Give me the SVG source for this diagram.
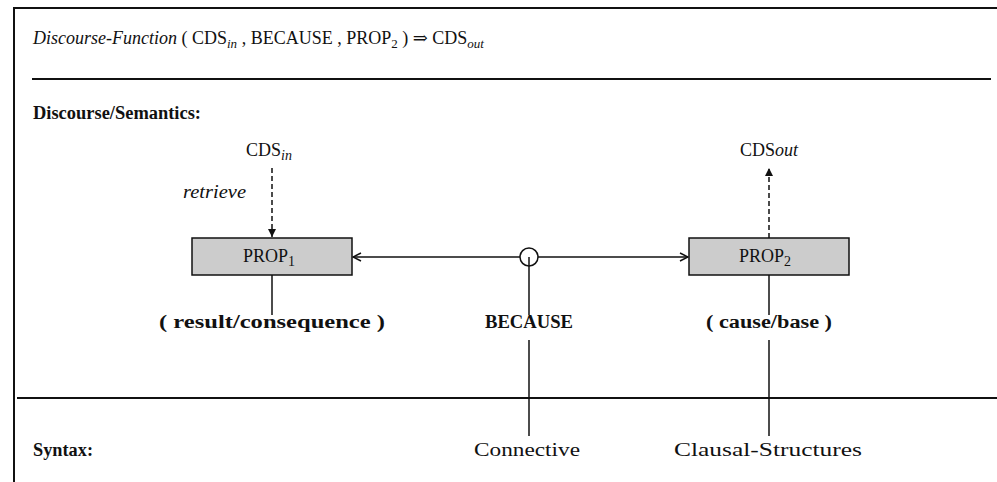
<svg xmlns="http://www.w3.org/2000/svg" width="997" height="482" viewBox="0 0 997 482">
<defs>
<style>
text{font-family:"Liberation Serif","DejaVu Serif",serif;fill:#111;font-size:18px}
.it{font-style:italic}
.sub{font-size:14px}
.b{font-weight:bold}
.c{text-anchor:middle}
.rule{stroke:#111;stroke-width:2;fill:none}
.ln{stroke:#111;stroke-width:1.5;fill:none}
.dash{stroke:#111;stroke-width:1.5;stroke-dasharray:5,3;fill:none}
.box{fill:#cccccc;stroke:#111;stroke-width:1.5}
</style>
<marker id="open" viewBox="0 0 10 10" refX="9" refY="5" markerWidth="10" markerHeight="10" markerUnits="userSpaceOnUse" orient="auto-start-reverse">
<path d="M1,1 L9,5 L1,9" fill="none" stroke="#111" stroke-width="1.5"/>
</marker>
<marker id="solid" viewBox="0 0 10 10" refX="10" refY="5" markerWidth="8" markerHeight="10" markerUnits="userSpaceOnUse" orient="auto">
<path d="M0,0 L10,5 L0,10 z" fill="#111"/>
</marker>
</defs>
<g id="frame">
<path class="rule" d="M997,8 H14 V482"/>
<line class="rule" x1="32" y1="79" x2="991" y2="79"/>
<line class="rule" x1="17" y1="398" x2="997" y2="398"/>
</g>
<g id="title">
<text x="33" y="44" font-size="16.5"><tspan class="it">Discourse-Function</tspan> ( CDS<tspan class="it" font-size="13" dy="4">in</tspan><tspan dy="-4"> , BECAUSE , PROP</tspan><tspan font-size="13" dy="4">2</tspan><tspan dy="-4"> ) ⇒ CDS</tspan><tspan class="it" font-size="13" dy="4">out</tspan></text>
</g>
<g id="section-labels">
<text class="b" x="33" y="119" font-size="17" textLength="168" lengthAdjust="spacingAndGlyphs">Discourse/Semantics:</text>
<text class="b" x="33" y="456" font-size="17" textLength="60" lengthAdjust="spacingAndGlyphs">Syntax:</text>
</g>
<g id="connectors">
<line class="dash" x1="272" y1="168" x2="272" y2="237" marker-end="url(#solid)"/>
<line class="dash" x1="769" y1="238" x2="769" y2="168" marker-end="url(#solid)"/>
<line class="ln" x1="353" y1="257" x2="688" y2="257" marker-start="url(#open)" marker-end="url(#open)"/>
<line class="ln" x1="272" y1="275" x2="272" y2="315"/>
<line class="ln" x1="529" y1="257" x2="529" y2="315"/>
<line class="ln" x1="529" y1="340" x2="529" y2="436"/>
<line class="ln" x1="769" y1="275" x2="769" y2="315"/>
<line class="ln" x1="769" y1="340" x2="769" y2="436"/>
<circle cx="529" cy="257" r="9" fill="#fff" stroke="#111" stroke-width="1.5"/>
<line class="ln" x1="529" y1="257" x2="529" y2="266"/>
</g>
<g id="cds-in">
<text x="246" y="156">CDS<tspan class="it sub" dy="4">in</tspan></text>
</g>
<g id="retrieve">
<text class="it" x="183" y="198" textLength="63" lengthAdjust="spacingAndGlyphs">retrieve</text>
</g>
<g id="prop1">
<rect class="box" x="192" y="238" width="160" height="37"/>
<text x="243" y="262">PROP<tspan class="sub" dy="4">1</tspan></text>
</g>
<g id="prop2">
<rect class="box" x="689" y="238" width="160" height="37"/>
<text x="739" y="262">PROP<tspan class="sub" dy="4">2</tspan></text>
</g>
<g id="cds-out">
<text class="c" x="769" y="156" font-size="19">CDS<tspan class="it">out</tspan></text>
</g>
<g id="result">
<text class="b c" x="272" y="328" textLength="226" lengthAdjust="spacingAndGlyphs">( result/consequence )</text>
</g>
<g id="because">
<text class="b c" x="529" y="328" font-size="15" textLength="88" lengthAdjust="spacingAndGlyphs">BECAUSE</text>
</g>
<g id="cause">
<text class="b c" x="769" y="328" textLength="126" lengthAdjust="spacingAndGlyphs">( cause/base )</text>
</g>
<g id="connective">
<text class="c" x="527" y="456" textLength="106" lengthAdjust="spacingAndGlyphs">Connective</text>
</g>
<g id="clausal">
<text class="c" x="768" y="456" textLength="188" lengthAdjust="spacingAndGlyphs">Clausal-Structures</text>
</g>
</svg>
